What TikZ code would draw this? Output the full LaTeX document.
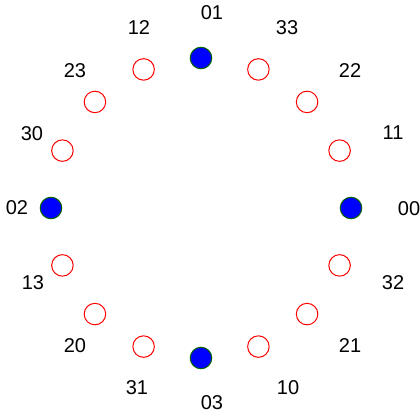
\documentclass[tikz,border=0pt]{standalone}
\usepackage{fontspec}
\setmainfont{Liberation Sans}
\definecolor{outlinegreen}{RGB}{0,100,0}
\begin{document}
\begin{tikzpicture}[x=1pt,y=-1pt,
  redc/.style={circle,draw=red,line width=1pt,minimum size=21.5pt,inner sep=0pt},
  bluec/.style={circle,draw=outlinegreen,fill=blue,line width=1pt,minimum size=21.5pt,inner sep=0pt},
  lab/.style={inner sep=0pt,font=\fontsize{20}{24}\selectfont}]
\useasboundingbox (0,0) rectangle (420,415);
% circles
\foreach \i in {0,...,15}{
  \pgfmathsetmacro{\a}{22.5*\i}
  \pgfmathtruncatemacro{\m}{mod(\i,4)}
  \ifnum\m=0
    \node[bluec] (c\i) at ({201+150*cos(\a)},{208-150*sin(\a)}) {};
  \else
    \node[redc] (c\i) at ({201+150*cos(\a)},{208-150*sin(\a)}) {};
  \fi
}
% labels
\node[lab] (l00) at (409,209) {00};
\node[lab] (l11) at (393,133) {11};
\node[lab] (l22) at (350,71) {22};
\node[lab] (l33) at (287,28) {33};
\node[lab] (l01) at (212,13) {01};
\node[lab] (l12) at (139,28) {12};
\node[lab] (l23) at (75,71) {23};
\node[lab] (l30) at (32,134) {30};
\node[lab] (l02) at (17,208) {02};
\node[lab] (l13) at (33,283) {13};
\node[lab] (l20) at (75,346) {20};
\node[lab] (l31) at (137,388) {31};
\node[lab] (l03) at (212,403) {03};
\node[lab] (l10) at (288,388) {10};
\node[lab] (l21) at (350,346) {21};
\node[lab] (l32) at (393,283) {32};
\end{tikzpicture}
\end{document}
